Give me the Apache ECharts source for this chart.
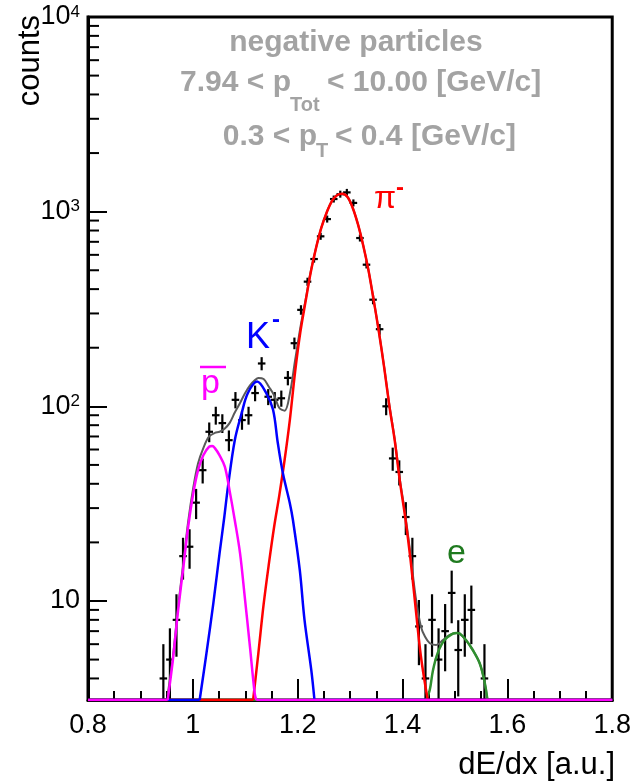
<!DOCTYPE html>
<html>
<head>
<meta charset="utf-8">
<script src="https://cdn.jsdelivr.net/npm/echarts@6/dist/echarts.min.js"></script>
<style>
html,body{margin:0;padding:0;background:#fff;}
#chart{width:634px;height:783px;}
</style>
</head>
<body>
<div id="chart"></div>
<script>
// ---------------- data ----------------
// histogram: bin centres (bin width 0.0125) and counts
var binWidth = 0.0125;
var binCenters = [0.94375,0.95625,0.96875,0.98125,0.99375,1.00625,1.01875,1.03125,1.04375,1.05625,
  1.06875,1.08125,1.09375,1.10625,1.11875,1.13125,1.14375,1.15625,1.16875,1.18125,
  1.19375,1.20625,1.21875,1.23125,1.24375,1.25625,1.26875,1.28125,1.29375,1.30625,
  1.31875,1.33125,1.34375,1.35625,1.36875,1.38125,1.39375,1.40625,1.41875,1.43125,
  1.44375,1.45625,1.46875,1.48125,1.49375,1.50625,1.51875,1.53125,1.55625];
var counts = [4,5,8,17,19,32,47,74,90,82,
  67,108,85,90,117,166,112,108,110,140,
  211,313,437,571,747,916,1161,1230,1256,1109,
  732,534,353,249,100,54,46,27,17,7.4,
  4,8,5,7,11,5.6,8,9,4];

// fitted components
var pbarX = [0.952,0.962,0.972,0.982,0.991,1.001,1.010,1.020,1.031,1.037,1.042,1.051,1.061,1.070,1.080,1.090,1.099,1.109,1.118,1.121];
var pbarY = [3.1,5.0,9.0,15,24,36,47,56,62,62.5,61,56,49,37,26,17.6,10.5,5.8,3.35,3.1];

var kX = [1.013,1.026,1.039,1.051,1.060,1.067,1.080,1.093,1.105,1.1225,1.140,1.153,1.162,1.172,1.185,1.191,1.204,1.213,1.226,1.232];
var kY = [3.1,5.4,9.7,17.6,27,38.7,67,92,117,134,117,96,65,45,31.8,26,14.4,8.0,4.4,3.1];

var piX = [1.115,1.125,1.135,1.145,1.155,1.165,1.175,1.185,1.195,1.205,1.215,1.225,1.235,1.245,1.255,1.265,1.275,1.285,1.295,1.305,1.315,1.325,1.335,1.345,1.355,1.365,1.375,1.385,1.395,1.405,1.415,1.425,1.435,1.448];
var piY = [3.1,5.4,9.6,15.5,24,35,53,85,150,240,345,490,650,825,985,1130,1215,1235,1190,1045,860,670,500,350,240,158,100,67,41,27,16.5,9.2,5.2,3.1];

var eX = [1.445,1.452,1.458,1.467,1.480,1.496,1.503,1.509,1.521,1.534,1.547,1.556,1.562];
var eY = [3.1,3.5,4.4,5.4,6.3,6.8,6.85,6.8,6.3,5.6,4.8,3.9,3.1];

var totX = [0.952,0.962,0.972,0.982,0.991,1.001,1.010,1.020,1.031,1.042,1.051,1.061,1.070,1.080,1.090,1.099,1.109,1.118,1.125,1.135,1.145,1.155,1.165,1.175,1.185,1.195,1.205,1.215,1.225,1.235,1.245,1.255,1.265,1.275,1.285,1.295,1.305,1.315,1.325,1.335,1.345,1.355,1.365,1.375,1.385,1.395,1.405,1.415,1.425,1.435,1.443,1.452,1.464,1.477,1.490,1.503,1.509,1.521,1.534,1.547,1.556,1.562];
var totY = [3.3,5.2,9.4,15.8,25.5,38.5,51,61,70,73,74,77,82,93,104,116,128,136,140,138,126,114,98,95,116,172,253,352,494,652,826,986,1131,1216,1236,1191,1046,861,671,501,351,241,159,101,68,42,28,17.5,10.5,7.4,6.55,6.07,5.94,6.3,6.7,6.85,6.8,6.3,5.6,4.8,3.9,3.1];

// axes
var xMin = 0.8, xMax = 1.8, xInterval = 0.2;
var xTickLabels = ['0.8','1','1.2','1.4','1.6','1.8'];
var yMin = 3.1, yMax = 10000;
var yTickValues = [10,100,1000,10000];
var yTickTexts = ['10','10{sup|2}','10{sup|3}','10{sup|4}'];
var yMinorTicks = [4,5,6,7,8,9,20,30,40,50,60,70,80,90,200,300,400,500,600,700,800,900,2000,3000,4000,5000,6000,7000,8000,9000];

// ---------------- helpers ----------------
var FONT = '"Liberation Sans", Arial, Helvetica, sans-serif';
function curveData(xs, ys) {
  // left floor, curve, right floor (floor = lower frame edge, like ROOT clipping)
  var d = [[xMin, yMin], [xs[0], yMin], [xs[0], null]];
  for (var i = 0; i < xs.length; i++) d.push([xs[i], ys[i]]);
  d.push([xs[xs.length - 1], null]);
  d.push([xs[xs.length - 1], yMin]);
  d.push([xMax, yMin]);
  return d;
}
function curveSeries(name, xs, ys, color, w) {
  return {
    name: name, type: 'line', data: curveData(xs, ys), showSymbol: false, symbol: 'none',
    smooth: 0.35, connectNulls: false, clip: true, silent: true, animation: false,
    lineStyle: { color: color, width: w }
  };
}

var chart = echarts.init(document.getElementById('chart'), null, { renderer: 'canvas' });

var GRAY = '#a3a3a3';
var option = {
  animation: false,
  backgroundColor: '#fff',
  grid: { left: 88, top: 17, right: 21, bottom: 83, show: true, borderColor: '#000', borderWidth: 3, backgroundColor: 'transparent' },
  xAxis: {
    type: 'value', min: xMin, max: xMax, interval: xInterval,
    axisLine: { show: true, lineStyle: { color: '#000', width: 3 } },
    axisTick: { show: true, inside: true, length: 21, lineStyle: { color: '#000', width: 2 } },
    minorTick: { show: true, splitNumber: 4, length: 9, lineStyle: { color: '#000', width: 2 } },
    splitLine: { show: false }, minorSplitLine: { show: false },
    axisLabel: {
      fontSize: 27, color: '#000', fontFamily: FONT, margin: 12,
      formatter: function (v, i) { return xTickLabels[Math.round((v - xMin) / xInterval)] || ''; }
    }
  },
  yAxis: {
    type: 'log', logBase: 10, min: yMin, max: yMax,
    axisLine: { show: true, lineStyle: { color: '#000', width: 3 } },
    axisTick: { show: true, inside: true, length: 19, lineStyle: { color: '#000', width: 2 } },
    splitLine: { show: false },
    axisLabel: {
      fontSize: 27, color: '#000', fontFamily: FONT, margin: 8, showMaxLabel: true, showMinLabel: false,
      formatter: function (v) {
        for (var i = 0; i < yTickValues.length; i++) {
          if (Math.abs(Math.log10(v) - Math.log10(yTickValues[i])) < 0.01) return yTickTexts[i];
        }
        return '';
      },
      rich: { sup: { fontSize: 17, verticalAlign: 'top', fontFamily: FONT, color: '#000', padding: [0, 0, 6, 0] } }
    }
  },
  series: [
    {
      name: 'data', type: 'custom', clip: true, silent: true, animation: false,
      data: binCenters.map(function (x, i) { return [x, counts[i]]; }),
      renderItem: function (params, api) {
        var x = api.value(0), n = api.value(1);
        var err = Math.sqrt(n);
        var c = api.coord([x, n]);
        var top = api.coord([x, n + err]);
        var bot = api.coord([x, Math.max(n - err, yMin)]);
        var l = api.coord([x - binWidth / 2, n]);
        var r = api.coord([x + binWidth / 2, n]);
        var m = 3.5;
        return {
          type: 'group', children: [
            { type: 'line', shape: { x1: c[0], y1: Math.min(top[1], c[1] - m), x2: c[0], y2: Math.max(bot[1], c[1] + m) }, style: { stroke: '#000', lineWidth: 2.2 } },
            { type: 'line', shape: { x1: l[0] - 0.5, y1: c[1], x2: r[0] + 0.5, y2: c[1] }, style: { stroke: '#000', lineWidth: 2.2 } }
          ]
        };
      }
    },
    {
      name: 'yminor', type: 'custom', clip: false, silent: true, animation: false,
      data: yMinorTicks.map(function (v) { return [xMin, v]; }),
      renderItem: function (params, api) {
        var p = api.coord([api.value(0), api.value(1)]);
        return { type: 'line', shape: { x1: p[0], y1: p[1], x2: p[0] + 11, y2: p[1] }, style: { stroke: '#000', lineWidth: 2 } };
      }
    },
    curveSeries('total', totX, totY, '#5a5a5a', 2),
    curveSeries('e', eX, eY, '#2f8f2f', 2.5),
    curveSeries('pi', piX, piY, '#ff0000', 2.5),
    curveSeries('K', kX, kY, '#0000ff', 2.5),
    curveSeries('pbar', pbarX, pbarY, '#ff00ff', 2.5)
  ],
  graphic: [
    { type: 'text', x: 30, y: 15, rotation: Math.PI / 2, style: { text: 'counts', font: '31px ' + FONT, fill: '#000', align: 'right', verticalAlign: 'middle' } },
    { type: 'text', x: 615, y: 765, style: { text: 'dE/dx [a.u.]', font: '31px ' + FONT, fill: '#000', align: 'right', verticalAlign: 'middle' } },

    { type: 'text', x: 356, y: 43, style: { text: 'negative particles', font: 'bold 30px ' + FONT, fill: GRAY, align: 'center', verticalAlign: 'middle' } },
    { type: 'text', x: 291, y: 83, style: { text: '7.94 < p', font: 'bold 30px ' + FONT, fill: GRAY, align: 'right', verticalAlign: 'middle' } },
    { type: 'text', x: 290, y: 105, style: { text: 'Tot', font: 'bold 20px ' + FONT, fill: GRAY, align: 'left', verticalAlign: 'middle' } },
    { type: 'text', x: 327, y: 83, style: { text: '< 10.00 [GeV/c]', font: 'bold 30px ' + FONT, fill: GRAY, align: 'left', verticalAlign: 'middle' } },
    { type: 'text', x: 317, y: 137, style: { text: '0.3 < p', font: 'bold 30px ' + FONT, fill: GRAY, align: 'right', verticalAlign: 'middle' } },
    { type: 'text', x: 316, y: 151, style: { text: 'T', font: 'bold 20px ' + FONT, fill: GRAY, align: 'left', verticalAlign: 'middle' } },
    { type: 'text', x: 335, y: 137, style: { text: '< 0.4 [GeV/c]', font: 'bold 30px ' + FONT, fill: GRAY, align: 'left', verticalAlign: 'middle' } },

    { type: 'text', x: 374, y: 199, style: { text: 'π', font: '32px ' + FONT, fill: '#ff0000', align: 'left', verticalAlign: 'middle' } },
    { type: 'text', x: 396, y: 188, style: { text: '-', font: 'bold 24px ' + FONT, fill: '#ff0000', align: 'left', verticalAlign: 'middle' } },
    { type: 'text', x: 246, y: 338, style: { text: 'K', font: '36px ' + FONT, fill: '#0000ff', align: 'left', verticalAlign: 'middle' } },
    { type: 'text', x: 272, y: 320, style: { text: '-', font: 'bold 24px ' + FONT, fill: '#0000ff', align: 'left', verticalAlign: 'middle' } },
    { type: 'text', x: 201, y: 384, style: { text: 'p', font: '34px ' + FONT, fill: '#ff00ff', align: 'left', verticalAlign: 'middle' } },
    { type: 'line', shape: { x1: 200, y1: 367, x2: 226, y2: 367 }, style: { stroke: '#ff00ff', lineWidth: 2.5 } },
    { type: 'text', x: 447, y: 554, style: { text: 'e', font: '34px ' + FONT, fill: '#1f7a1f', align: 'left', verticalAlign: 'middle' } }
  ]
};
chart.setOption(option);
</script>
</body>
</html>
